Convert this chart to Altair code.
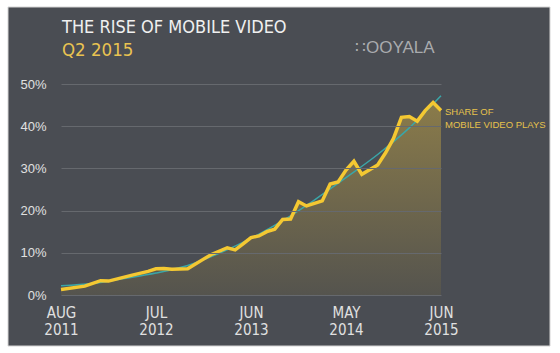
import altair as alt
import pandas as pd

# ---- data ----
month_pos = [0, 3, 5, 6, 9, 11, 12, 13, 14, 16, 18, 19, 21, 22, 23, 24, 25, 26, 27, 28,
             29, 30, 31, 33, 34, 35, 36, 37, 38, 40, 41, 42, 43, 44, 45, 46, 47, 48]
share_pct = [1.3, 2.1, 3.4, 3.3, 4.7, 5.6, 6.2, 6.3, 6.1, 6.2, 8.5, 9.6, 11.2, 10.7, 12.1, 13.6,
             14.0, 15.0, 15.6, 17.9, 18.0, 22.1, 21.1, 22.3, 26.3, 26.8, 29.6, 31.7, 28.6, 30.8,
             33.7, 37.1, 42.1, 42.3, 41.2, 43.7, 45.6, 43.7]

trend_pos = [0, 4, 8, 12, 16, 20, 24, 28, 32, 36, 40, 44, 48]
trend_pct = [2.2, 2.7, 3.9, 5.2, 7.0, 9.9, 13.4, 17.6, 22.5, 27.8, 33.3, 39.6, 47.2]

tick_pos = [0, 12, 24, 36, 48]
tick_month = ["AUG", "JUL", "JUN", "MAY", "JUN"]
tick_year = ["2011", "2012", "2013", "2014", "2015"]
y_ticks = [0, 10, 20, 30, 40, 50]

title_text = "THE RISE OF MOBILE VIDEO"
subtitle_text = "Q2 2015"
logo_text = "∷OOYALA"
series_label = ["SHARE OF", "MOBILE VIDEO PLAYS"]

# ---- styling ----
CARD = "#4a4d53"
YELLOW = "#f4c832"
TEAL = "#3aa6a8"
LABEL = "#e0e0e0"
GRID = "#66696e"
NARROW = "Liberation Sans Narrow, DejaVu Sans Condensed, Liberation Sans, sans-serif"
SANS = "Liberation Sans, Arial, sans-serif"

share_df = pd.DataFrame({"pos": month_pos, "pct": share_pct})
trend_df = pd.DataFrame({"pos": trend_pos, "pct": trend_pct})
one = pd.DataFrame({"k": [0]})

x_expr = "".join(
    f"datum.value == {p} ? ['{m}', '{y}'] : " for p, m, y in zip(tick_pos, tick_month, tick_year)
) + "''"

x_scale = alt.Scale(domain=[0, 48], nice=False, zero=False)
y_scale = alt.Scale(domain=[0, 50], nice=False)

x_axis = alt.Axis(values=tick_pos, labelExpr=x_expr, grid=False, ticks=False, domain=False,
                  labelFont=NARROW, labelFontSize=15, labelColor=LABEL, labelLineHeight=17,
                  labelPadding=10, title=None, labelFlush=False, zindex=1)
y_axis = alt.Axis(values=y_ticks, labelExpr="datum.value + '%'", grid=True, gridColor=GRID,
                  gridWidth=1, ticks=False, domain=False, labelFont=SANS, labelFontSize=13,
                  labelColor=LABEL, labelPadding=15, title=None, zindex=1)

X = alt.X("pos:Q", scale=x_scale, axis=x_axis)
Y = alt.Y("pct:Q", scale=y_scale, axis=y_axis)

bg = alt.Chart(one).mark_rect(color=CARD, stroke="#d4d4d4", strokeWidth=1).encode(
    x=alt.value(-53), x2=alt.value(489), y=alt.value(-77), y2=alt.value(262)
)

gradient = alt.Gradient(
    gradient="linear",
    stops=[alt.GradientStop(color="#55544e", offset=0),
           alt.GradientStop(color="#8a7b4a", offset=1)],
    x1=1, x2=1, y1=1, y2=0,
)

area = alt.Chart(share_df).mark_area(color=gradient).encode(x=X, y=Y)
line = alt.Chart(share_df).mark_line(color=YELLOW, strokeWidth=3.5).encode(x=X, y=Y)
trend = alt.Chart(trend_df).mark_line(color=TEAL, strokeWidth=1.5, interpolate="monotone").encode(x=X, y=Y)

def txt(s, x, y, size, color, font, weight="normal"):
    return alt.Chart(one).mark_text(
        text=s, align="left", baseline="alphabetic", fontSize=size, color=color,
        font=font, fontWeight=weight
    ).encode(x=alt.value(x), y=alt.value(y))

title = txt(title_text, 1, -51, 18, "#f0f0f0", NARROW)
sub = txt(subtitle_text, 1, -28, 18.5, "#e9c351", NARROW)
logo = txt(logo_text, 294, -31, 17, "#a9abae", SANS)
lab1 = txt(series_label[0], 384, 31, 9.5, "#e6c24c", SANS)
lab2 = txt(series_label[1], 384, 44, 9.5, "#e6c24c", SANS)

chart = alt.layer(bg, area, trend, line, title, sub, logo, lab1, lab2).properties(
    width=380, height=211,
    autosize=alt.AutoSizeParams(type="none"),
    padding={"left": 61, "top": 84, "right": 119, "bottom": 58},
    background="white",
).configure_view(stroke=None)

chart.save("out.html", embed_options={"renderer": "svg", "actions": False})
